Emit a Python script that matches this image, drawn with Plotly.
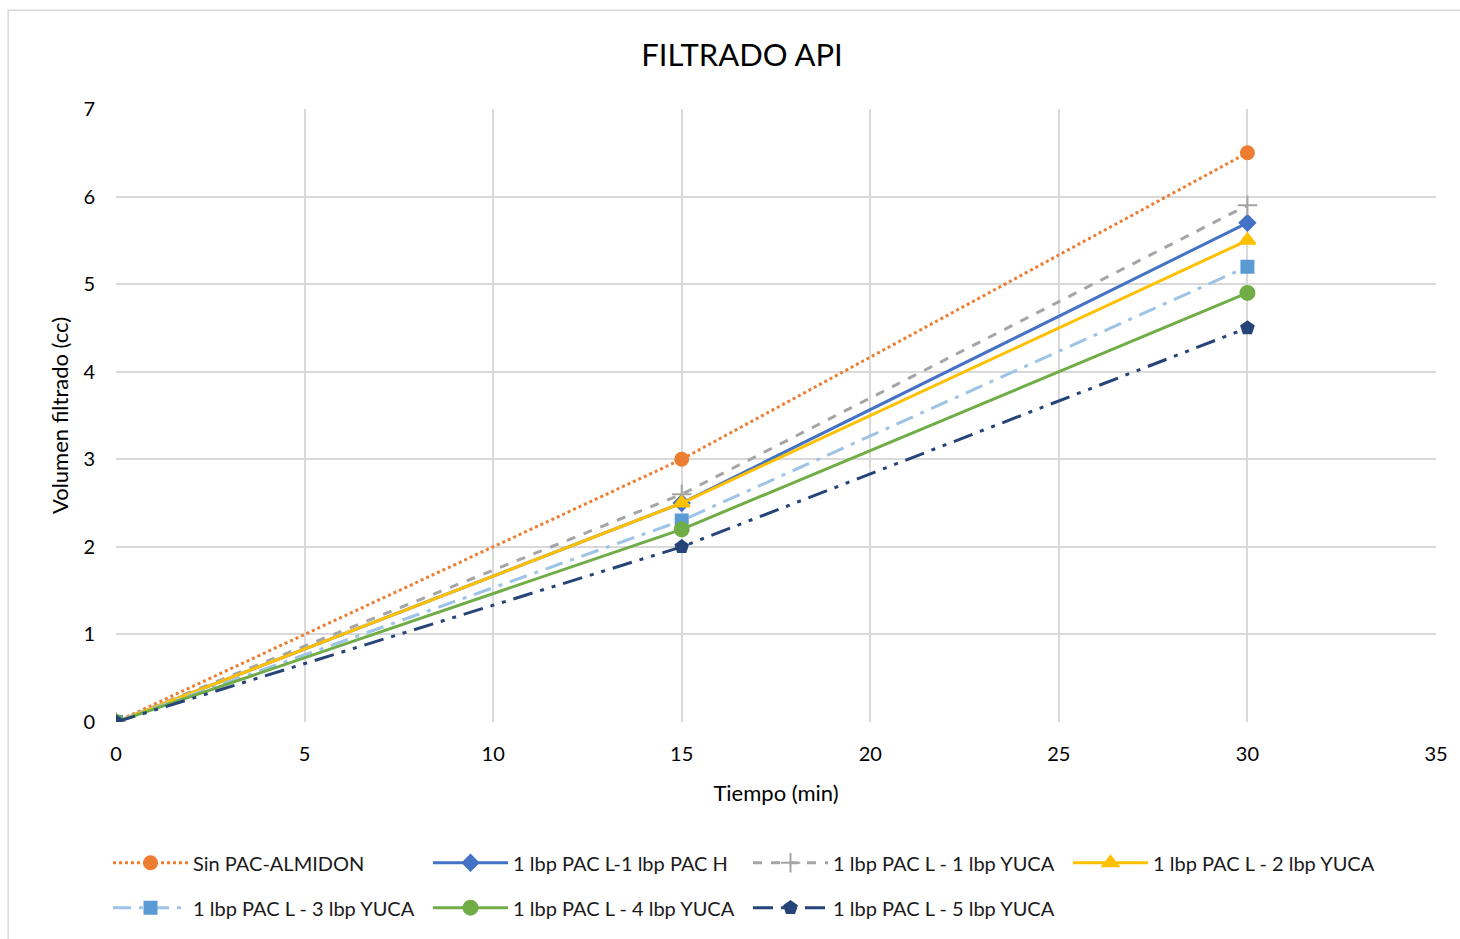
import plotly.graph_objects as go

tiempo = [0, 15, 30]
names = ["Sin PAC-ALMIDON", "1 lbp PAC L-1 lbp PAC H", "1 lbp PAC L - 1 lbp YUCA",
         "1 lbp PAC L - 2 lbp YUCA", "1 lbp PAC L - 3 lbp YUCA", "1 lbp PAC L - 4 lbp YUCA",
         "1 lbp PAC L - 5 lbp YUCA"]
sin_pac = [0, 3.0, 6.5]
pac_h = [0, 2.5, 5.7]
yuca1 = [0, 2.6, 5.9]
yuca2 = [0, 2.5, 5.5]
yuca3 = [0, 2.3, 5.2]
yuca4 = [0, 2.2, 4.9]
yuca5 = [0, 2.0, 4.5]

series = [sin_pac, pac_h, yuca1, yuca2, yuca3, yuca4, yuca5]
colors = ["#ED7D31", "#4472C4", "#A5A5A5", "#FFC000", "#9DC3E6", "#70AD47", "#264478"]
mcolors = ["#ED7D31", "#4472C4", "#A5A5A5", "#FFC000", "#5B9BD5", "#70AD47", "#264478"]
dashes = ["dot", "solid", "dash", "solid", "18px,8px,4px,8px", "solid", "20px,8px,4px,8px,4px,8px"]
symbols = ["circle", "diamond", "cross-thin", "triangle-up", "square", "circle", "pentagon"]
msizes = [13, 12, 14, 14, 12, 14, 13]
legends = ["legend", "legend", "legend", "legend", "legend2", "legend2", "legend2"]

FONT = "Lato"
fig = go.Figure()
for i in range(7):
    fig.add_trace(go.Scatter(
        x=tiempo, y=series[i], name=names[i], mode="lines+markers",
        line=dict(color=colors[i], width=3, dash=dashes[i]),
        marker=dict(symbol=symbols[i], size=msizes[i], color=mcolors[i],
                    line=dict(color=mcolors[i], width=2)),
        legend=legends[i],
    ))

leg_common = dict(orientation="h", xanchor="left", yanchor="middle",
                  font=dict(family=FONT, size=20, color="#1a1a1a"),
                  entrywidth=230, itemwidth=75, bgcolor="rgba(0,0,0,0)")

fig.update_layout(
    width=1460, height=939,
    margin=dict(l=116, r=22, t=109, b=216),
    paper_bgcolor="white", plot_bgcolor="white",
    font=dict(family=FONT, color="#404040"),
    title=dict(text="FILTRADO API", x=(743 - 116) / 1322, xref="paper", xanchor="center",
               y=1 - 55 / 939, yanchor="middle",
               font=dict(family=FONT, size=31, color="#000000")),
    xaxis=dict(range=[0, 35], dtick=5, showgrid=True, gridcolor="#D9D9D9", gridwidth=1.5,
               zeroline=False, showline=False, ticks="", ticklabelstandoff=18,
               tickfont=dict(family=FONT, size=20, color="#000000"),
               title=dict(text="Tiempo (min)", font=dict(family=FONT, size=22, color="#000000"), standoff=21)),
    yaxis=dict(range=[0, 7], dtick=1, showgrid=True, gridcolor="#D9D9D9", gridwidth=1.5,
               zeroline=False, showline=False, ticks="", ticklabelstandoff=20,
               tickfont=dict(family=FONT, size=20, color="#000000"),
               title=dict(text="Volumen filtrado (cc)", font=dict(family=FONT, size=22, color="#000000"), standoff=8)),
    legend=dict(x=(108 - 116) / 1322, y=-(864 - 723) / 614, **leg_common),
    legend2=dict(x=(108 - 116) / 1322, y=-(909 - 723) / 614, **leg_common),
    shapes=[dict(type="rect", xref="paper", yref="paper",
                 x0=(8 - 116) / 1322, x1=1.1, y0=-0.5, y1=(723 - 10) / 614,
                 line=dict(color="#D9D9D9", width=1.5), layer="below")],
)
fig.write_html("out.html")
